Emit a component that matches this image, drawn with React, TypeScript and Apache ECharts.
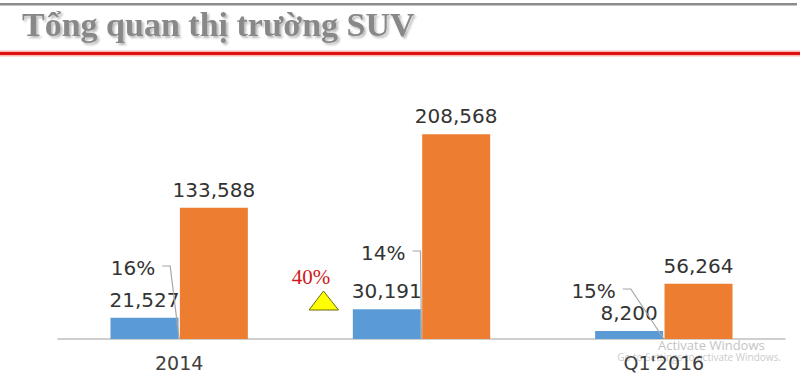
import React, { useEffect, useRef } from "react";
import * as echarts from "echarts";

const categories = ["2014", "", "Q1'2016"];
const suvUnits = [21527, 30191, 8200];
const totalUnits = [133588, 208568, 56264];
const suvShare = ["16%", "14%", "15%"];
const growthLabel = "40%";
const titleText = "Tổng quan thị trường SUV";

// layout of the share callouts (pixels relative to the boundary between the two bars at the baseline)
const shareCallout = [
  { lift: 71, dx: -24 },
  { lift: 86, dx: -16 },
  { lift: 48, dx: -48 },
];

export default function App() {
  const ref = useRef<HTMLDivElement>(null);
  useEffect(() => {
    if (!ref.current) return;
    const chart = echarts.init(ref.current, null, { renderer: "svg" });
    const labelFont = "'DejaVu Sans', Arial, sans-serif";
    chart.setOption({
      animation: false,
      backgroundColor: "#ffffff",
      grid: { left: 58, right: 15, top: 93.5, bottom: 42 },
      xAxis: {
        type: "category",
        data: categories,
        axisLine: { lineStyle: { color: "#bfbfbf", width: 1.5 } },
        axisTick: { show: false },
        axisLabel: {
          color: "#404040",
          fontSize: 19,
          fontFamily: labelFont,
          margin: 14,
        },
      },
      yAxis: {
        type: "value",
        min: 0,
        max: 250000,
        show: false,
        splitLine: { show: false },
      },
      series: [
        {
          type: "bar",
          data: suvUnits,
          barWidth: 68,
          barGap: "2%",
          itemStyle: { color: "#5b9bd5" },
          label: {
            show: true,
            position: "top",
            distance: 8,
            color: "#333333",
            fontSize: 20,
            fontFamily: labelFont,
            formatter: (p: any) => p.value.toLocaleString("en-US"),
          },
        },
        {
          type: "bar",
          data: totalUnits,
          barWidth: 68,
          itemStyle: { color: "#ed7d31" },
          label: {
            show: true,
            position: "top",
            distance: 8,
            color: "#333333",
            fontSize: 20,
            fontFamily: labelFont,
            formatter: (p: any) => p.value.toLocaleString("en-US"),
          },
        },
        {
          type: "custom",
          data: suvShare.map((s, i) => [i, 0]),
          z: 10,
          renderItem: (params: any, api: any) => {
            const i = params.dataIndex;
            const base = api.coord([api.value(0), 0]);
            const cfg = shareCallout[i];
            const ly = base[1] - cfg.lift;
            const lx = base[0] + cfg.dx;
            return {
              type: "group",
              children: [
                {
                  type: "text",
                  style: {
                    x: lx,
                    y: ly,
                    text: suvShare[i],
                    align: "right",
                    verticalAlign: "middle",
                    fill: "#333333",
                    fontSize: 20,
                    fontFamily: labelFont,
                  },
                },
                {
                  type: "polyline",
                  shape: {
                    points: [
                      [lx + 7, ly - 2],
                      [lx + 15, ly - 2],
                      [base[0], base[1]],
                    ],
                  },
                  style: { stroke: "#a6a6a6", lineWidth: 1.2, fill: "none" },
                },
              ],
            };
          },
        },
      ],
      graphic: [
        { type: "rect", shape: { x: 0, y: 3, width: 797, height: 2.5 }, style: { fill: "#8c8c8c" } },
        { type: "rect", shape: { x: 0, y: 50.5, width: 800, height: 6 }, style: { fill: "#f7b8b8" } },
        { type: "rect", shape: { x: 0, y: 52, width: 800, height: 3 }, style: { fill: "#e01010" } },
        {
          type: "text",
          left: 22,
          top: 7,
          style: {
            text: titleText,
            fill: "#888888",
            fontSize: 34,
            fontWeight: "bold",
            fontFamily: "'Liberation Serif', 'Times New Roman', serif",
            textShadowColor: "rgba(0,0,0,0.28)",
            textShadowOffsetX: 2,
            textShadowOffsetY: 2,
            textShadowBlur: 2,
          },
        },
        {
          type: "text",
          x: 311,
          y: 277,
          style: {
            text: growthLabel,
            fill: "#d01818",
            fontSize: 21,
            fontFamily: "'Liberation Serif', 'Times New Roman', serif",
            align: "center",
            verticalAlign: "middle",
          },
        },
        {
          type: "polygon",
          shape: { points: [[323.5, 291], [309, 310], [338.5, 310]] },
          style: { fill: "#ffff00", stroke: "#6b6b10", lineWidth: 1 },
        },
        {
          type: "text",
          x: 658,
          y: 345,
          style: {
            text: "Activate Windows",
            fill: "#c4c4c4",
            fontSize: 13,
            fontFamily: "'Open Sans', 'Noto Sans', sans-serif",
            verticalAlign: "middle",
          },
        },
        {
          type: "text",
          x: 781,
          y: 357,
          style: {
            text: "Go to Settings to activate Windows.",
            fill: "#cccccc",
            fontSize: 10,
            fontFamily: "'Open Sans', 'Noto Sans', sans-serif",
            align: "right",
            verticalAlign: "middle",
          },
        },
      ],
    });
    return () => chart.dispose();
  }, []);
  return (
    <div
      ref={ref}
      style={{ position: "fixed", left: 0, top: 0, width: 800, height: 381 }}
    />
  );
}
